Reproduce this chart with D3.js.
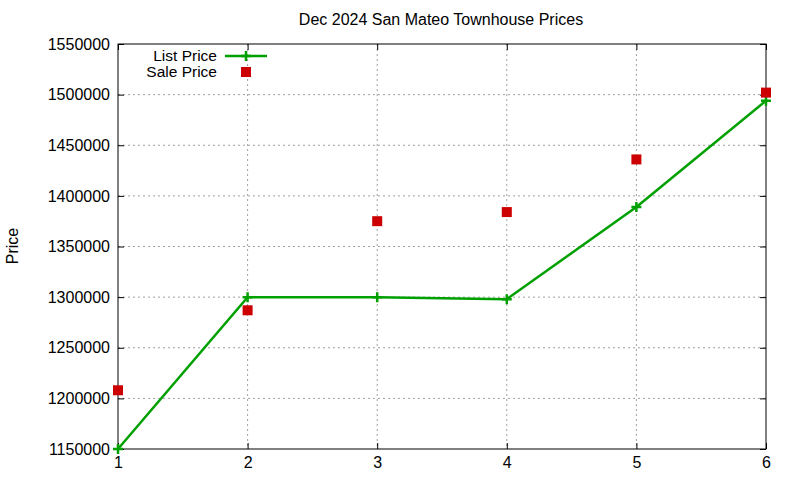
<!DOCTYPE html>
<html>
<head>
<meta charset="utf-8">
<style>
    body { margin: 0; background: #fff; }
    svg { font-family: 'Liberation Sans', Arial, sans-serif; }
    .grid line { stroke: #a0a0a0; stroke-dasharray: 2,3; }
    .axis text { font-size: 16px; fill: #000; }
</style>
</head>
<body>
<svg width="800" height="480"></svg>
<script src="https://d3js.org/d3.v7.min.js"></script>
<script>
    let xValues = [1, 2, 3, 4, 5, 6];
    let listPrice = [1150000, 1300000, 1300000, 1298000, 1389000, 1494000];
    let salePrice = [1208000, 1287000, 1375000, 1384000, 1436000, 1502000];
    let yTicks = [1150000, 1200000, 1250000, 1300000, 1350000, 1400000, 1450000, 1500000, 1550000];

    let margin = { top: 44, right: 34, bottom: 31, left: 118 };
    let width = 800, height = 480;

    let svg = d3.select("svg");

    let x = d3.scaleLinear()
        .domain([1, 6])
        .range([margin.left, width - margin.right]);

    let y = d3.scaleLinear()
        .domain([1150000, 1550000])
        .range([height - margin.bottom, margin.top]);

    // grid
    let grid = svg.append("g").attr("class", "grid");
    grid.selectAll(".gx")
        .data(xValues.slice(1, -1))
        .join("line")
        .attr("x1", d => x(d)).attr("x2", d => x(d))
        .attr("y1", y(1550000)).attr("y2", y(1150000));
    grid.selectAll(".gy")
        .data(yTicks.slice(1, -1))
        .join("line")
        .attr("x1", x(1)).attr("x2", x(6))
        .attr("y1", d => y(d)).attr("y2", d => y(d));

    // axes, ticks pointing in
    svg.append("g")
        .attr("class", "axis")
        .attr("transform", `translate(${margin.left},0)`)
        .call(d3.axisLeft(y).tickValues(yTicks).tickSize(-6).tickPadding(8).tickFormat(d3.format("d")))
        .call(g => g.select(".domain").remove());

    svg.append("g")
        .attr("transform", `translate(${width - margin.right},0)`)
        .call(d3.axisRight(y).tickValues(yTicks).tickSize(-6).tickFormat(""))
        .call(g => g.select(".domain").remove());

    svg.append("g")
        .attr("class", "axis")
        .attr("transform", `translate(0,${height - margin.bottom})`)
        .call(d3.axisBottom(x).tickValues(xValues).tickSize(-6).tickPadding(8).tickFormat(d3.format("d")))
        .call(g => g.select(".domain").remove());

    svg.append("g")
        .attr("transform", `translate(0,${margin.top})`)
        .call(d3.axisTop(x).tickValues(xValues).tickSize(-6).tickFormat(""))
        .call(g => g.select(".domain").remove());

    svg.selectAll(".tick line").attr("stroke", "#000");

    svg.append("rect")
        .attr("x", x(1)).attr("y", y(1550000))
        .attr("width", x(6) - x(1)).attr("height", y(1150000) - y(1550000))
        .attr("fill", "none").attr("stroke", "#000");

    // list price line
    let line = d3.line()
        .x((d, i) => x(xValues[i]))
        .y(d => y(d));

    svg.append("path")
        .datum(listPrice)
        .attr("fill", "none")
        .attr("stroke", "#00a000")
        .attr("stroke-width", 2.5)
        .attr("d", line);

    let cross = (g, cx, cy) => {
        g.append("path")
            .attr("d", `M${cx - 5},${cy}H${cx + 5}M${cx},${cy - 5}V${cy + 5}`)
            .attr("stroke", "#00a000").attr("stroke-width", 2.5).attr("fill", "none");
    };

    let plusG = svg.append("g");
    listPrice.forEach((d, i) => cross(plusG, x(xValues[i]), y(d)));

    svg.append("g")
        .selectAll("rect")
        .data(salePrice)
        .join("rect")
        .attr("x", (d, i) => x(xValues[i]) - 5)
        .attr("y", d => y(d) - 5)
        .attr("width", 10).attr("height", 10)
        .attr("fill", "#cc0000");

    // legend
    let legend = svg.append("g");
    legend.append("text")
        .attr("x", 217).attr("y", 61)
        .attr("text-anchor", "end")
        .style("font-size", "15.5px")
        .text("List Price");
    legend.append("line")
        .attr("x1", 225).attr("x2", 267).attr("y1", 56).attr("y2", 56)
        .attr("stroke", "#00a000").attr("stroke-width", 2.5);
    cross(legend, 246, 56);
    legend.append("text")
        .attr("x", 217).attr("y", 77)
        .attr("text-anchor", "end")
        .style("font-size", "15.5px")
        .text("Sale Price");
    legend.append("rect")
        .attr("x", 241).attr("y", 67).attr("width", 10).attr("height", 10)
        .attr("fill", "#cc0000");

    // title and y label
    svg.append("text")
        .attr("x", 441).attr("y", 25)
        .attr("text-anchor", "middle")
        .style("font-size", "16px")
        .text("Dec 2024 San Mateo Townhouse Prices");

    svg.append("text")
        .attr("transform", "translate(18,246) rotate(-90)")
        .attr("text-anchor", "middle")
        .style("font-size", "16px")
        .text("Price");
</script>
</body>
</html>
